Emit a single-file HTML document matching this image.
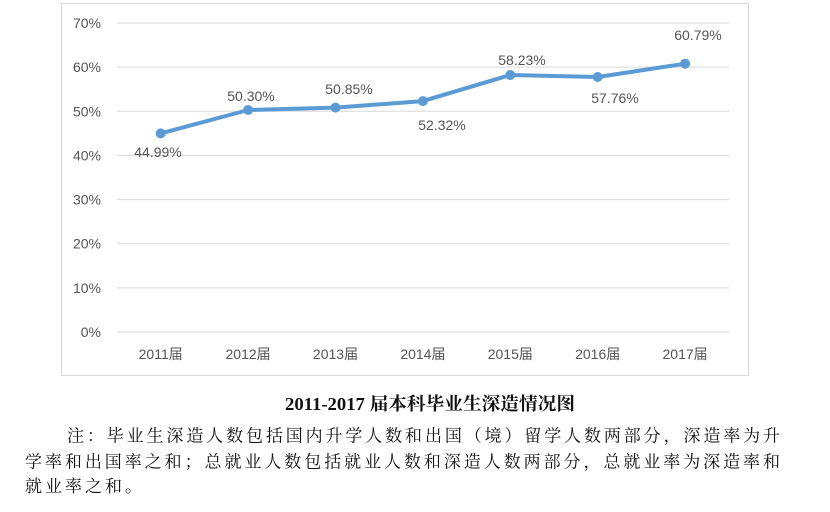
<!DOCTYPE html>
<html>
<head>
<meta charset="utf-8">
<style>
  html,body{margin:0;padding:0;background:#fff;}
  body{width:830px;height:512px;overflow:hidden;}
  svg{display:block;}
  .ax{font-family:"Liberation Sans","Noto Sans CJK SC",sans-serif;font-size:14px;fill:#555555;}
  .note{font-family:"Liberation Serif","Noto Serif CJK SC",serif;font-size:17px;fill:#111;}
  .title{font-family:"Liberation Serif","Noto Serif CJK SC",serif;font-size:18px;font-weight:bold;fill:#111;}
</style>
</head>
<body>
<svg width="830" height="512" viewBox="0 0 830 512" xmlns="http://www.w3.org/2000/svg">
  <rect x="0" y="0" width="830" height="512" fill="#fff"/>
  <!-- chart frame -->
  <rect x="61.5" y="3.5" width="687" height="372" fill="#fff" stroke="#d9d9d9" stroke-width="1"/>
  <!-- gridlines -->
  <g stroke="#d9d9d9" stroke-width="1">
    <line x1="117" y1="332" x2="729" y2="332"/>
    <line x1="117" y1="287.9" x2="729" y2="287.9"/>
    <line x1="117" y1="243.7" x2="729" y2="243.7"/>
    <line x1="117" y1="199.6" x2="729" y2="199.6"/>
    <line x1="117" y1="155.4" x2="729" y2="155.4"/>
    <line x1="117" y1="111.3" x2="729" y2="111.3"/>
    <line x1="117" y1="67.1" x2="729" y2="67.1"/>
    <line x1="117" y1="23" x2="729" y2="23"/>
  </g>
  <!-- y labels -->
  <g class="ax" text-anchor="end">
    <text x="101" y="337">0%</text>
    <text x="101" y="292.9">10%</text>
    <text x="101" y="248.7">20%</text>
    <text x="101" y="204.6">30%</text>
    <text x="101" y="160.4">40%</text>
    <text x="101" y="116.3">50%</text>
    <text x="101" y="72.1">60%</text>
    <text x="101" y="28">70%</text>
  </g>
  <!-- x labels -->
  <g class="ax" text-anchor="middle">
    <text x="160.7" y="359">2011届</text>
    <text x="248.1" y="359">2012届</text>
    <text x="335.5" y="359">2013届</text>
    <text x="422.9" y="359">2014届</text>
    <text x="510.3" y="359">2015届</text>
    <text x="597.7" y="359">2016届</text>
    <text x="685.1" y="359">2017届</text>
  </g>
  <!-- series -->
  <polyline fill="none" stroke="#5b9bd5" stroke-width="4" stroke-linejoin="round" stroke-linecap="round"
    points="160.7,133.4 248.1,110 335.5,107.6 422.9,101.1 510.3,75 597.7,77 685.1,63.7"/>
  <g fill="#5b9bd5">
    <circle cx="160.7" cy="133.4" r="5"/>
    <circle cx="248.1" cy="110" r="5"/>
    <circle cx="335.5" cy="107.6" r="5"/>
    <circle cx="422.9" cy="101.1" r="5"/>
    <circle cx="510.3" cy="75" r="5"/>
    <circle cx="597.7" cy="77" r="5"/>
    <circle cx="685.1" cy="63.7" r="5"/>
  </g>
  <!-- data labels -->
  <g class="ax" text-anchor="middle">
    <text x="158" y="157">44.99%</text>
    <text x="251" y="101">50.30%</text>
    <text x="349" y="94">50.85%</text>
    <text x="442" y="130">52.32%</text>
    <text x="522" y="65">58.23%</text>
    <text x="615" y="103">57.76%</text>
    <text x="698" y="40">60.79%</text>
  </g>
  <!-- title -->
  <text class="title" x="285" y="410" textLength="290" lengthAdjust="spacingAndGlyphs">2011-2017 届本科毕业生深造情况图</text>
  <!-- note -->
  <text class="note" x="67" y="441.5" textLength="713" lengthAdjust="spacing">注：毕业生深造人数包括国内升学人数和出国（境）留学人数两部分，深造率为升</text>
  <text class="note" x="25" y="467.5" textLength="755" lengthAdjust="spacing">学率和出国率之和；总就业人数包括就业人数和深造人数两部分，总就业率为深造率和</text>
  <text class="note" x="25" y="492" textLength="117" lengthAdjust="spacing">就业率之和。</text>
</svg>
</body>
</html>
